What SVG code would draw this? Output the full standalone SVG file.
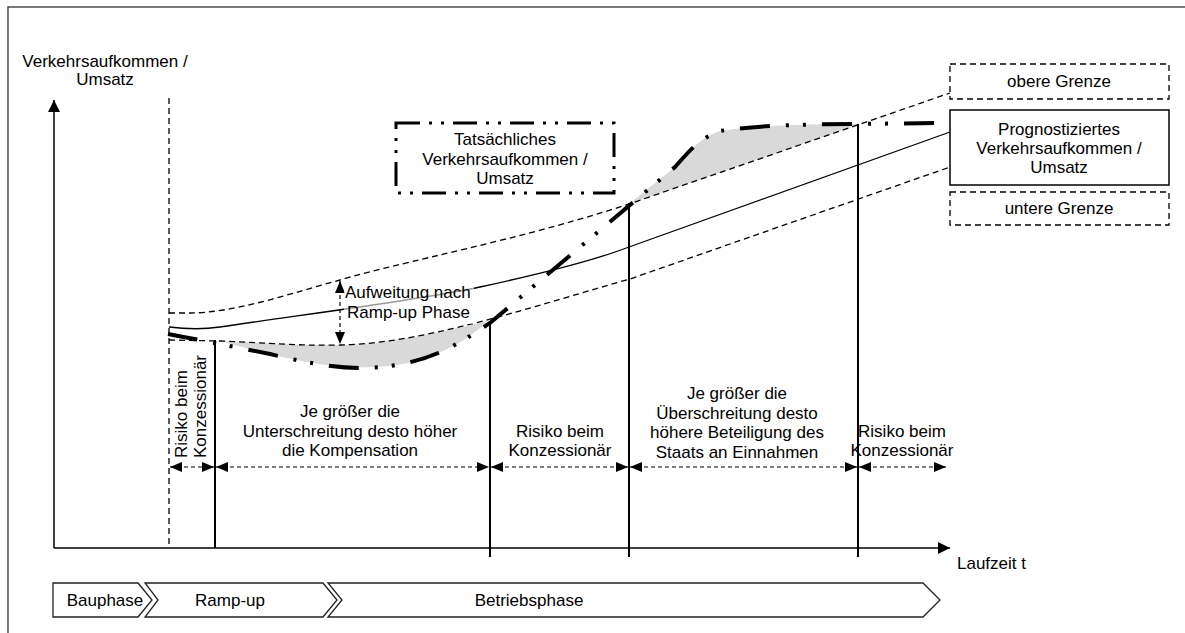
<svg xmlns="http://www.w3.org/2000/svg" width="1185" height="633" viewBox="0 0 1185 633">
<style>
text{font-family:"Liberation Sans",Arial,sans-serif;font-size:17px;fill:#000}
.c{text-anchor:middle}
.dash{fill:none;stroke:#000;stroke-width:1.3;stroke-dasharray:6 4}
.solid{fill:none;stroke:#000;stroke-width:1.3}
.act{fill:none;stroke:#000;stroke-width:4;stroke-dasharray:30 16 3 14 3 16}
.vl{stroke:#000;stroke-width:2}
.row{stroke:#000;stroke-width:1.2;stroke-dasharray:4 3;marker-start:url(#ah);marker-end:url(#ah)}
.gray{fill:#d9d9d9;stroke:none}
.chev{fill:#fff;stroke:#222;stroke-width:1.3}
</style>
<defs>
<marker id="ah" viewBox="0 0 12 10" refX="12" refY="5" markerWidth="12" markerHeight="10" markerUnits="userSpaceOnUse" orient="auto-start-reverse"><path d="M0,0 L12,5 L0,10 Z" fill="#000"/></marker>
<marker id="ax" viewBox="0 0 12 12" refX="12" refY="6" markerWidth="12" markerHeight="12" markerUnits="userSpaceOnUse" orient="auto"><path d="M0,0 L12,6 L0,12 Z" fill="#000"/></marker>
</defs>
<rect x="0" y="0" width="1185" height="633" fill="#fff"/>
<rect x="8" y="7" width="1200" height="700" fill="none" stroke="#333" stroke-width="1.3"/>

<g id="fills">
<path class="gray" d="M220,341 C270,343 300,346 340,345 C390,344 440,332 488,321 C470,338 450,350 420,360 C395,367 370,368 345,367 C310,364 280,357 250,349 C238,346 228,343 220,341 Z"/>
<path class="gray" d="M629,204 L675,167 C690,150 700,138 720,131 C750,126 800,124 860,124 Z"/>
</g>

<g id="axes">
<line x1="54" y1="548" x2="54" y2="100" stroke="#000" stroke-width="1.5" marker-end="url(#ax)"/>
<line x1="54" y1="548" x2="950" y2="548" stroke="#000" stroke-width="1.5" marker-end="url(#ax)"/>
<text x="105" y="67" class="c">Verkehrsaufkommen /</text>
<text x="105" y="84.5" class="c">Umsatz</text>
<text x="957" y="569">Laufzeit t</text>
</g>

<g id="curves">
<path class="dash" d="M169,313 L190,313 C235,313 295,292 340,280 C400,262 520,240 629,204 L950,93"/>
<path class="solid" d="M169,327 C185,329 200,330 220,327 C300,315 420,300 480,287 C540,274 590,262 629,247 L950,132"/>
<path class="dash" d="M169,340 L220,341 C270,343 300,346 340,345 C390,344 440,332 483,321 C540,306 590,290 630,279 L950,167"/>
<path class="act" d="M168,334 C200,340 230,346 270,354 C300,361 330,368 360,368 C390,368 420,362 445,350 C465,340 475,333 490,323 L675,167 C690,150 700,138 720,131 C750,126 800,124 858,124 L936,123"/>
</g>

<g id="verticals">
<line x1="169" y1="98" x2="169" y2="546" class="dash" stroke-dasharray="5 4"/>
<line class="vl" x1="215" y1="340" x2="215" y2="548"/>
<line class="vl" x1="490" y1="322" x2="490" y2="557" stroke-width="1.4"/>
<line class="vl" x1="629" y1="203" x2="629" y2="557"/>
<line class="vl" x1="858" y1="124" x2="858" y2="557"/>
</g>

<g id="widening">
<line x1="340" y1="281" x2="340" y2="344" class="row"/>
<rect x="344" y="284" width="130" height="40" fill="#fff" opacity="0.6"/>
<text x="345" y="298">Aufweitung nach</text>
<text x="347" y="318">Ramp-up Phase</text>
</g>

<g id="connectors">
<line class="row" x1="170" y1="467" x2="214" y2="467"/>
<line class="row" x1="216" y1="467" x2="489" y2="467"/>
<line class="row" x1="491" y1="467" x2="628" y2="467"/>
<line class="row" x1="630" y1="467" x2="857" y2="467"/>
<line class="row" x1="859" y1="467" x2="946" y2="467"/>
</g>

<g id="zone-labels">
<text transform="translate(187,458) rotate(-90)">Risiko beim</text>
<text transform="translate(206,458) rotate(-90)">Konzessionär</text>
<text x="350" y="417" class="c">Je größer die</text>
<text x="350" y="436.5" class="c">Unterschreitung desto höher</text>
<text x="350" y="456" class="c">die Kompensation</text>
<text x="560" y="436.5" class="c">Risiko beim</text>
<text x="560" y="456" class="c">Konzessionär</text>
<text x="737" y="399" class="c">Je größer die</text>
<text x="737" y="418.5" class="c">Überschreitung desto</text>
<text x="737" y="438" class="c">höhere Beteiligung des</text>
<text x="737" y="457.5" class="c">Staats an Einnahmen</text>
<text x="902" y="436.5" class="c">Risiko beim</text>
<text x="902" y="456" class="c">Konzessionär</text>
</g>

<g id="legend-actual">
<rect x="396" y="123" width="218" height="70" fill="#fff" stroke="#000" stroke-width="3" stroke-dasharray="24 9 3 9 3 9"/>
<text x="505" y="145" class="c">Tatsächliches</text>
<text x="505" y="164.5" class="c">Verkehrsaufkommen /</text>
<text x="505" y="184" class="c">Umsatz</text>
</g>

<g id="legend-upper">
<rect x="950" y="64" width="219" height="35" fill="#fff" stroke="#000" stroke-width="1.3" stroke-dasharray="6 4"/>
<text x="1059" y="87" class="c">obere Grenze</text>
</g>
<g id="legend-forecast">
<rect x="950" y="110" width="219" height="75" fill="#fff" stroke="#000" stroke-width="1.5"/>
<text x="1059" y="134.5" class="c">Prognostiziertes</text>
<text x="1059" y="154" class="c">Verkehrsaufkommen /</text>
<text x="1059" y="173" class="c">Umsatz</text>
</g>
<g id="legend-lower">
<rect x="950" y="192" width="219" height="33" fill="#fff" stroke="#000" stroke-width="1.3" stroke-dasharray="6 4"/>
<text x="1059" y="214" class="c">untere Grenze</text>
</g>

<g id="phase-bau">
<path class="chev" d="M53,583 L138,583 L152,600 L138,617 L53,617 Z"/>
<text x="105" y="606" class="c">Bauphase</text>
</g>
<g id="phase-ramp">
<path class="chev" d="M145,583 L323,583 L337,600 L323,617 L145,617 L158,600 Z"/>
<text x="230" y="606" class="c">Ramp-up</text>
</g>
<g id="phase-betrieb">
<path class="chev" d="M328,583 L923,583 L940,600 L923,617 L328,617 L342,600 Z"/>
<text x="529" y="606" class="c">Betriebsphase</text>
</g>
</svg>
